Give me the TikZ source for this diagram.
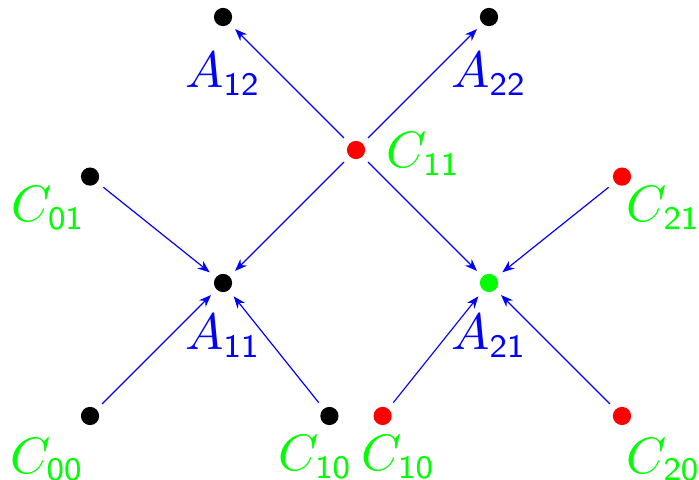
\documentclass[tikz,border=0pt]{standalone}
\usepackage{amsmath,amssymb}
\DeclareMathSizes{10.95}{10.95}{7}{5}
\usetikzlibrary{arrows.meta}
\tikzset{
  gdot/.style={circle, fill, inner sep=0pt, minimum size=3.9pt, outer sep=1.7pt},
  glabelA/.style={text=blue, inner sep=0pt, font=\fontsize{10.95}{13}\selectfont},
  glabelC/.style={glabelA, text=green},
  garrow/.style={-{Stealth[length=2.6pt,width=2pt]}, blue, line width=0.25pt},
}

\begin{document}
\begin{tikzpicture}
  \useasboundingbox (-0.677,-0.481) rectangle (4.579,3.128);
  % points of the grid
  \node[gdot] (c00) at (0,0) {};
  \node[gdot] (c10a) at (1.8,0) {};
  \node[gdot, red] (c10b) at (2.2,0) {};
  \node[gdot, red] (c20) at (4,0) {};
  \node[gdot] (a11) at (1,1) {};
  \node[gdot, green] (a21) at (3,1) {};
  \node[gdot] (c01) at (0,1.8) {};
  \node[gdot, red] (c21) at (4,1.8) {};
  \node[gdot, red] (c11) at (2,2) {};
  \node[gdot] (a12) at (1,3) {};
  \node[gdot] (a22) at (3,3) {};
  % labels
  \node[glabelA, anchor=base] (la12) at ([yshift=-0.53cm]a12.center) {$A_{\mathsf{12}}$};
  \node[glabelA, anchor=base] (la22) at ([yshift=-0.53cm]a22.center) {$A_{\mathsf{22}}$};
  \node[glabelA, anchor=base] (la11) at ([yshift=-0.5cm]a11.center) {$A_{\mathsf{11}}$};
  \node[glabelA, anchor=base] (la21) at ([yshift=-0.5cm]a21.center) {$A_{\mathsf{21}}$};
  \node[glabelC, anchor=base west] (lc11) at ([shift={(0.225,-0.135)}]c11.center) {$C_{\mathsf{11}}$};
  \node[glabelC, anchor=base east] (lc01) at ([shift={(-0.03,-0.34)}]c01.center) {$C_{\mathsf{01}}$};
  \node[glabelC, anchor=base west] (lc21) at ([shift={(0.03,-0.34)}]c21.center) {$C_{\mathsf{21}}$};
  \node[glabelC, anchor=base east] (lc00) at ([shift={(-0.04,-0.43)}]c00.center) {$C_{\mathsf{00}}$};
  \node[glabelC, anchor=base east] (lc10a) at ([shift={(0.18,-0.41)}]c10a.center) {$C_{\mathsf{10}}$};
  \node[glabelC, anchor=base west] (lc10b) at ([shift={(-0.165,-0.41)}]c10b.center) {$C_{\mathsf{10}}$};
  \node[glabelC, anchor=base west] (lc20) at ([shift={(0.03,-0.43)}]c20.center) {$C_{\mathsf{20}}$};
  % arrows
  \foreach \s/\t in {c01/a11, c00/a11, c10a/a11, c11/a11, c11/a12,
                     c11/a22, c11/a21, c21/a21, c10b/a21, c20/a21}
    \draw[garrow] (\s) -- (\t);
\end{tikzpicture}
\end{document}
